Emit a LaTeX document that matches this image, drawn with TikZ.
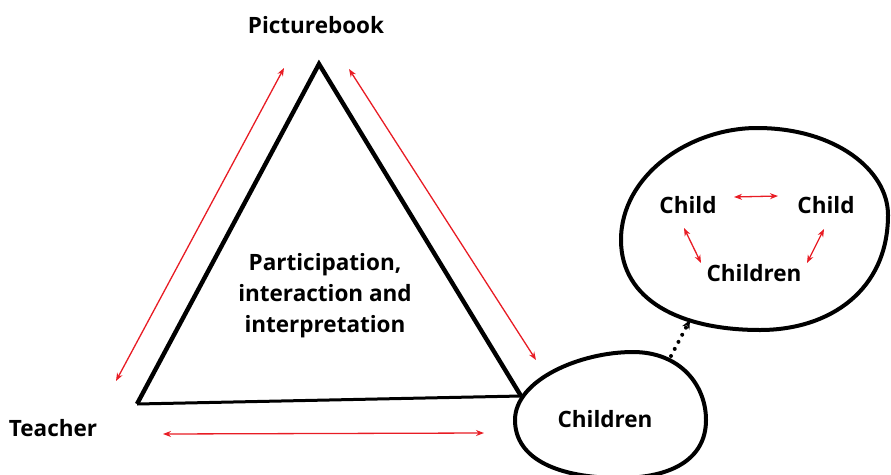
\documentclass[tikz,border=0pt]{standalone}
\usepackage{fontspec}
\setmainfont{Open Sans}
\usetikzlibrary{arrows.meta}
\definecolor{relred}{RGB}{232,28,36}
\begin{document}
\begin{tikzpicture}[x=1pt,y=-1pt,
  lbl/.style={font=\fontsize{22.5}{31}\selectfont\bfseries, inner sep=0pt},
  rel/.style={relred, line width=1.3pt, {Stealth[length=8pt,width=6pt]}-{Stealth[length=8pt,width=6pt]}},
  edge/.style={line width=4.4pt, line join=miter},
  blob/.style={line width=4pt}]
\useasboundingbox (0,0) rectangle (891,474);

% triangle
\coordinate (top) at (319,64);
\coordinate (bl) at (137,404);
\coordinate (br) at (521,396);
\draw[edge] (br) -- (top) -- (bl);
\draw[line width=3pt] (bl) -- (br);

% labels
\node[lbl] (pb) at (316,25) {Picturebook};
\node[lbl] (teacher) at (53,428) {Teacher};
\node[lbl, align=center] (mid) at (325,296) {Participation,\\interaction and\\interpretation};

% children blob
\draw[blob] (515,420) .. controls (515,380) and (580,352) .. (633,352)
  .. controls (680,352) and (706,385) .. (706,420)
  .. controls (706,460) and (670,478) .. (620,478)
  .. controls (560,478) and (515,460) .. (515,420) -- cycle;
\node[lbl] (children) at (605,419) {Children};

% group blob
\draw[blob] (621,240) .. controls (621,175) and (690,128) .. (757,128)
  .. controls (835,128) and (888,170) .. (888,215)
  .. controls (888,290) and (830,330) .. (760,330)
  .. controls (680,330) and (621,300) .. (621,240) -- cycle;
\node[lbl] (c1) at (688,205) {Child};
\node[lbl] (c2) at (826,205) {Child};
\node[lbl] (cc) at (754,273) {Children};

% relations
\draw[rel] (284,68) -- (116,381);
\draw[rel] (349,69) -- (536,360);
\draw[rel] (163,434) -- (484,433);
\draw[rel] (734,197) -- (778,196);
\draw[rel] (684,228) -- (701,263);
\draw[rel] (824,229) -- (807,263);

% dotted link
\coordinate (d0) at (671,356);
\coordinate (d1) at (690,320);
\draw[line width=4pt, line cap=round, dash pattern=on 0pt off 8pt, -{Stealth[length=9pt,width=8pt]}] (d0) -- (d1);
\end{tikzpicture}
\end{document}
